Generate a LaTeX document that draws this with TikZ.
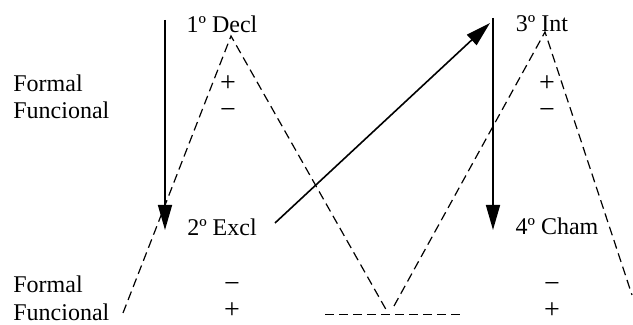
\documentclass[tikz,border=0pt]{standalone}
\usepackage{fontspec}
\setmainfont{Liberation Serif}
\usetikzlibrary{arrows.meta}

\begin{document}
\begin{tikzpicture}[
    x=0.5pt, y=-0.5pt,
    txt/.style={font=\fontsize{12}{14}\selectfont, inner sep=0pt, anchor=base},
    feat/.style={txt, anchor=base west},
    sign/.style={txt, font=\fontsize{14}{16}\selectfont},
    arrow/.style={-{Triangle[length=12.5pt, width=7pt]}, line width=0.8pt},
    guide/.style={dash pattern=on 4.5pt off 2.5pt, line width=0.6pt}
]
\useasboundingbox (0,0) rectangle (633,325);

% moods
\node[txt] (decl) at (222,33) {1º Decl};
\node[txt] (excl) at (222,236) {2º Excl};
\node[txt] (int) at (542,32) {3º Int};
\node[txt] (cham) at (557,235) {4º Cham};

% features
\node[feat] (formA) at (13,92) {Formal};
\node[feat] (funcA) at (13,119) {Funcional};
\node[feat] (formB) at (13,293) {Formal};
\node[feat] (funcB) at (13,321) {Funcional};

% signs
\node[sign] (declForm) at (228,92) {+};
\node[sign] (declFunc) at (228,119) {−};
\node[sign] (intForm) at (547,92) {+};
\node[sign] (intFunc) at (547,119) {−};
\node[sign] (exclForm) at (232,293) {−};
\node[sign] (exclFunc) at (232,319) {+};
\node[sign] (chamForm) at (552,293) {−};
\node[sign] (chamFunc) at (552,319) {+};

% ends of the lines
\coordinate (declTop) at (165,20);
\coordinate (declTip) at (165,230);
\coordinate (intTop) at (493,18);
\coordinate (intTip) at (493,230);
\coordinate (exclStart) at (275,223);
\coordinate (intEnd) at (490,23);
\coordinate (declApex) at (231,36);
\coordinate (intApex) at (545,32);
\coordinate (leftFoot) at (123,313);
\coordinate (midFoot) at (388,313);
\coordinate (midRise) at (394,306);
\coordinate (rightFoot) at (632,295);
\coordinate (baseL) at (325,314.5);
\coordinate (baseR) at (460,314.5);

\draw[arrow] (declTop) -- (declTip);
\draw[arrow] (intTop) -- (intTip);
\draw[arrow] (exclStart) -- (intEnd);

\draw[guide] (leftFoot) -- (declApex) -- (midFoot);
\draw[guide] (midRise) -- (intApex) -- (rightFoot);
\draw[guide] (baseL) -- (baseR);
\end{tikzpicture}
\end{document}
